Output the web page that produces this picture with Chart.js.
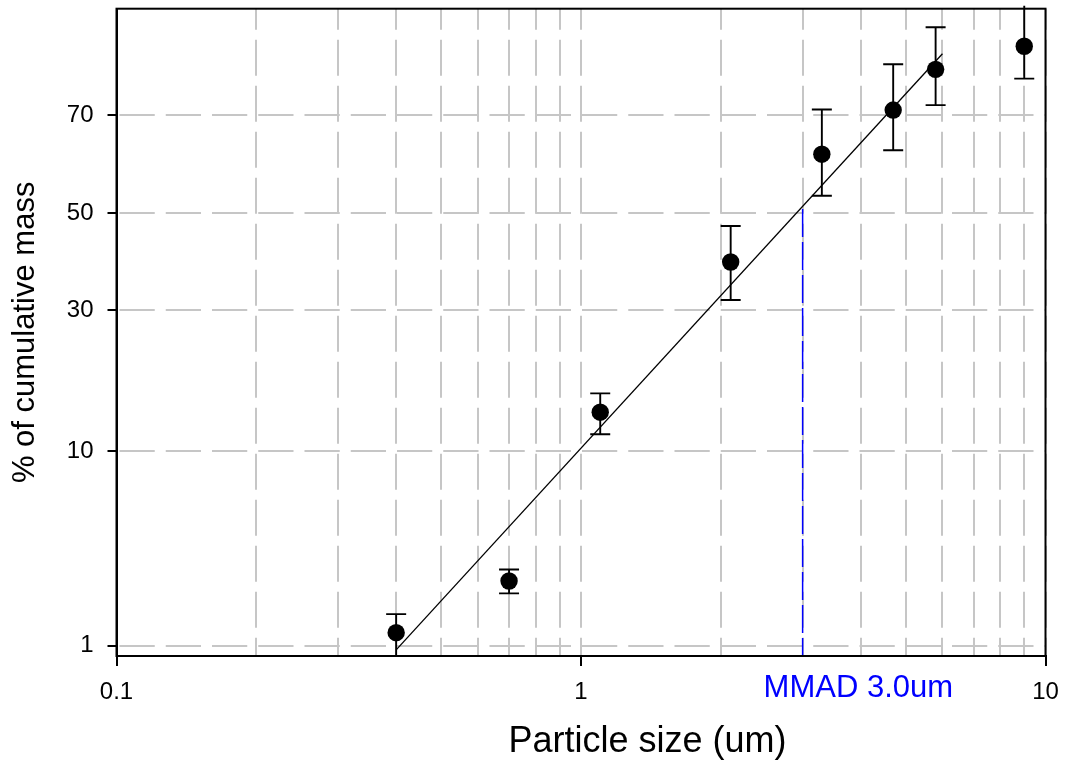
<!DOCTYPE html>
<html>
<head>
<meta charset="utf-8">
<title>% of cumulative mass vs particle size</title>
<script src="https://cdn.jsdelivr.net/npm/chart.js@4.4.1/dist/chart.umd.min.js"></script>
<style>
  html, body { margin: 0; padding: 0; background: #fff; }
  #wrap { width: 1066px; height: 766px; }
</style>
</head>
<body>
<div id="wrap"><canvas id="chart" width="1066" height="766"></canvas></div>
<script>
const FONT = '"Liberation Sans", Arial, Helvetica, sans-serif';

// measured data (particle size in um, cumulative mass in %)
const sizes = [0.4, 0.7, 1.1, 2.1, 3.3, 4.7, 5.8, 9.0];
const cumMass = [1.20, 2.39, 14.2, 39.6, 62.4, 71.0, 78.0, 81.5];
const massHigh = [1.55, 2.76, 16.6, 47.2, 71.1, 78.8, 84.1, 90.0];
const massLow = [0.6, 2.04, 11.7, 32.0, 53.7, 63.2, 71.9, 76.5];

// fitted log-probability line
const fitSizes = [0.4, 6.0];
const fitMass = [0.94, 80.4];

// MMAD marker
const mmadSize = 3.0;
const mmadMass = 50;
const mmadLabel = 'MMAD 3.0um';

// axes
const xMin = 0.1;
const xMax = 10;
const xMajorTicks = [0.1, 1, 10];
const xMinorTicks = [0.2, 0.3, 0.4, 0.5, 0.6, 0.7, 0.8, 0.9, 2, 3, 4, 5, 6, 7, 8, 9];
const yMinMass = 0.86;
const yMaxMass = 86.4;
const yTicks = [1, 10, 30, 50, 70];
const yTickLabels = ['1', '10', '30', '50', '70'];

const COLORS = {
  ink: '#000000',
  grid: '#c6c6c6',
  mmad: '#0000ff',
};

// inverse normal CDF (Acklam), used for the probability axis
function probit(p) {
  const a = [-3.969683028665376e+01, 2.209460984245205e+02, -2.759285104469687e+02, 1.383577518672690e+02, -3.066479806614716e+01, 2.506628277459239e+00];
  const b = [-5.447609879822406e+01, 1.615858368580409e+02, -1.556989798598866e+02, 6.680131188771972e+01, -1.328068155288572e+01];
  const c = [-7.784894002430293e-03, -3.223964580411365e-01, -2.400758277161838e+00, -2.549732539343734e+00, 4.374664141464968e+00, 2.938163982698783e+00];
  const d = [7.784695709041462e-03, 3.224671290700398e-01, 2.445134137142996e+00, 3.754408661907416e+00];
  const pLow = 0.02425;
  if (p < pLow) {
    const q = Math.sqrt(-2 * Math.log(p));
    return (((((c[0] * q + c[1]) * q + c[2]) * q + c[3]) * q + c[4]) * q + c[5]) /
      ((((d[0] * q + d[1]) * q + d[2]) * q + d[3]) * q + 1);
  }
  if (p <= 1 - pLow) {
    const q = p - 0.5;
    const r = q * q;
    return (((((a[0] * r + a[1]) * r + a[2]) * r + a[3]) * r + a[4]) * r + a[5]) * q /
      (((((b[0] * r + b[1]) * r + b[2]) * r + b[3]) * r + b[4]) * r + 1);
  }
  const q = Math.sqrt(-2 * Math.log(1 - p));
  return -(((((c[0] * q + c[1]) * q + c[2]) * q + c[3]) * q + c[4]) * q + c[5]) /
    ((((d[0] * q + d[1]) * q + d[2]) * q + d[3]) * q + 1);
}

const z = (pct) => probit(pct / 100);

const errorBars = {
  id: 'errorBars',
  beforeDatasetsDraw(chart) {
    const { ctx, chartArea: area, scales: { x, y } } = chart;
    ctx.save();
    ctx.beginPath();
    ctx.rect(area.left, area.top - 3, area.right - area.left, area.bottom - area.top + 3);
    ctx.clip();

    // MMAD drop line
    const mx = x.getPixelForValue(mmadSize);
    ctx.strokeStyle = COLORS.mmad;
    ctx.lineWidth = 1.5;
    ctx.setLineDash([28, 5]);
    ctx.beginPath();
    ctx.moveTo(mx, y.getPixelForValue(z(mmadMass)) - 4);
    ctx.lineTo(mx, area.bottom);
    ctx.stroke();
    ctx.setLineDash([]);

    // error bars
    ctx.strokeStyle = COLORS.ink;
    ctx.lineWidth = 1.9;
    sizes.forEach((s, i) => {
      const px = x.getPixelForValue(s);
      const hi = y.getPixelForValue(z(massHigh[i]));
      const lo = y.getPixelForValue(z(massLow[i]));
      ctx.beginPath();
      ctx.moveTo(px, hi);
      ctx.lineTo(px, lo);
      ctx.moveTo(px - 10, hi);
      ctx.lineTo(px + 10, hi);
      ctx.moveTo(px - 10, lo);
      ctx.lineTo(px + 10, lo);
      ctx.stroke();
    });
    ctx.restore();
  },
  afterDraw(chart) {
    const { ctx, chartArea: area, scales: { x } } = chart;
    ctx.save();
    ctx.strokeStyle = COLORS.ink;
    ctx.lineWidth = 2;
    ctx.strokeRect(area.left, area.top, area.right - area.left, area.bottom - area.top);

    ctx.fillStyle = COLORS.mmad;
    ctx.font = `31px ${FONT}`;
    ctx.textAlign = 'left';
    ctx.textBaseline = 'alphabetic';
    ctx.fillText(mmadLabel, x.getPixelForValue(mmadSize) - 39, area.bottom + 41);

    ctx.fillStyle = COLORS.ink;
    ctx.font = `36px ${FONT}`;
    ctx.textAlign = 'center';
    ctx.fillText('Particle size (um)', area.left + 531, area.bottom + 96);
    ctx.restore();
  },
};

new Chart(document.getElementById('chart'), {
  type: 'scatter',
  data: {
    datasets: [
      {
        label: 'fit',
        data: fitSizes.map((s, i) => ({ x: s, y: z(fitMass[i]) })),
        showLine: true,
        borderColor: COLORS.ink,
        borderWidth: 1.3,
        pointRadius: 0,
        fill: false,
      },
      {
        label: 'cumulative mass',
        data: sizes.map((s, i) => ({ x: s, y: z(cumMass[i]) })),
        showLine: false,
        pointRadius: 8.7,
        pointBackgroundColor: COLORS.ink,
        pointBorderColor: COLORS.ink,
        pointBorderWidth: 0,
      },
    ],
  },
  options: {
    responsive: false,
    animation: false,
    layout: { padding: { top: 7, right: 20.5, left: 0, bottom: 0 } },
    plugins: { legend: { display: false }, tooltip: { enabled: false } },
    scales: {
      x: {
        type: 'logarithmic',
        min: xMin,
        max: xMax,
        afterBuildTicks: (scale) => {
          scale.ticks = [...xMajorTicks, ...xMinorTicks]
            .sort((p, q) => p - q)
            .map((v) => ({ value: v }));
        },
        afterFit: (scale) => {
          scale.height = 110;
          scale.paddingLeft = 0;
          scale.paddingRight = 0;
        },
        ticks: {
          autoSkip: false,
          maxRotation: 0,
          padding: 12,
          color: COLORS.ink,
          font: { family: FONT, size: 24 },
          callback: (value) => (xMajorTicks.includes(value) ? String(value) : ''),
        },
        grid: {
          color: COLORS.grid,
          lineWidth: 2,
          tickLength: 10,
          tickWidth: 2,
          tickColor: (ctx) => (ctx.tick && xMajorTicks.includes(ctx.tick.value) ? COLORS.ink : 'rgba(0,0,0,0)'),
        },
        border: { display: true, color: COLORS.ink, width: 2, dash: [36, 10], dashOffset: 15 },
      },
      y: {
        type: 'linear',
        min: z(yMinMass),
        max: z(yMaxMass),
        afterBuildTicks: (scale) => {
          scale.ticks = yTicks.map((v) => ({ value: z(v) }));
        },
        afterFit: (scale) => {
          scale.width = 116.5;
          scale.paddingTop = 0;
          scale.paddingBottom = 0;
        },
        ticks: {
          padding: 14,
          color: COLORS.ink,
          font: { family: FONT, size: 24 },
          callback: (value, index) => yTickLabels[index],
        },
        grid: {
          color: COLORS.grid,
          lineWidth: 2,
          tickLength: 9,
          tickWidth: 2,
          tickColor: COLORS.ink,
        },
        border: { display: true, color: COLORS.ink, width: 2, dash: [35.25, 11], dashOffset: 44.75 },
        title: {
          display: true,
          text: '% of cumulative mass',
          color: COLORS.ink,
          font: { family: FONT, size: 31 },
          padding: { top: 7, bottom: 0 },
        },
      },
    },
  },
  plugins: [errorBars],
});
</script>
</body>
</html>
